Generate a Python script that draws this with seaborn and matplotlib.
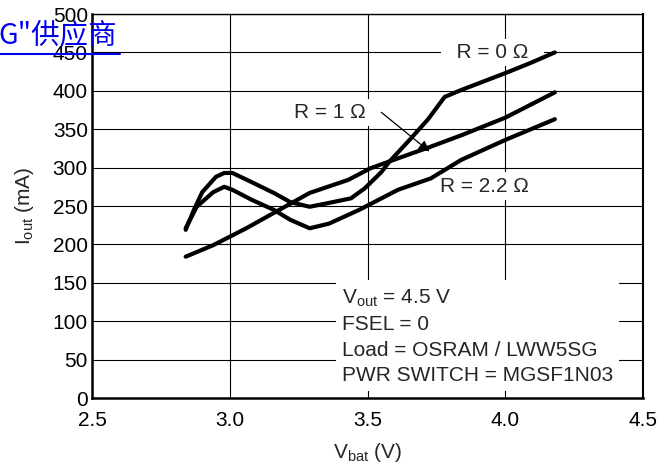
import numpy as np
import pandas as pd
import matplotlib
matplotlib.use("Agg")
import matplotlib.pyplot as plt
from matplotlib.lines import Line2D
import seaborn as sns

# Curves (V in volts, I in mA)
v_r0 = [2.84, 2.87, 2.90, 2.95, 2.98, 3.01, 3.08, 3.16, 3.22, 3.29, 3.36, 3.44,
        3.49, 3.55, 3.58, 3.65, 3.72, 3.78, 3.84, 4.00, 4.09, 4.18]
i_r0 = [219, 245, 268, 288, 293, 293, 281, 267, 255, 249, 254, 260,
        273, 294, 308, 335, 363, 392, 401, 423, 436, 450]

v_r1 = [2.84, 2.94, 3.06, 3.18, 3.29, 3.43, 3.51, 3.61, 3.72, 3.84, 4.00, 4.18]
i_r1 = [184, 199, 221, 245, 267, 284, 299, 312, 326, 342, 365, 398]

v_r22 = [2.84, 2.88, 2.94, 2.98, 3.01, 3.08, 3.16, 3.22, 3.29, 3.36, 3.47,
         3.61, 3.73, 3.84, 4.00, 4.18]
i_r22 = [221, 249, 268, 275, 271, 258, 245, 232, 221, 227, 245,
         271, 286, 310, 336, 363]

x_ticks = [2.5, 3.0, 3.5, 4.0, 4.5]
y_ticks = list(range(0, 501, 50))

df = pd.concat([
    pd.DataFrame({"vbat": v_r0, "iout": i_r0, "R": "0"}),
    pd.DataFrame({"vbat": v_r1, "iout": i_r1, "R": "1"}),
    pd.DataFrame({"vbat": v_r22, "iout": i_r22, "R": "2.2"}),
])

sns.set_style("white")
plt.rcParams["font.family"] = ["Liberation Sans", "Noto Sans CJK SC", "DejaVu Sans"]
plt.rcParams["mathtext.default"] = "regular"

fig = plt.figure(figsize=(6.6, 4.71), dpi=100)
ax = fig.add_axes([92 / 660, 1 - 398 / 471, 551 / 660, 384 / 471])

sns.lineplot(data=df, x="vbat", y="iout", hue="R", units="R", estimator=None,
             sort=False, palette=["black"] * 3, linewidth=3, legend=False,
             ax=ax, zorder=3)

ax.set_xlim(2.5, 4.5)
ax.set_ylim(0, 500)
ax.set_xticks(x_ticks, labels=[f"{t:.1f}" for t in x_ticks])
ax.set_yticks(y_ticks)
ax.tick_params(axis="both", length=0, labelsize=15, colors="black")
ax.tick_params(axis="x", pad=9)
ax.tick_params(axis="y", pad=3)
ax.grid(True, color="black", linewidth=0.8)
ax.set_axisbelow(True)

for side, lw in [("left", 1.8), ("bottom", 1.8), ("right", 1.5), ("top", 1.0)]:
    ax.spines[side].set_visible(True)
    ax.spines[side].set_color("black")
    ax.spines[side].set_linewidth(lw)

ax.set_xlabel("$V_{bat}$ (V)", fontsize=15)
ax.set_ylabel("$I_{out}$ (mA)", fontsize=15)
ax.xaxis.set_label_coords(0.5, -0.112)
ax.yaxis.set_label_coords(-0.102, 0.5)

box = dict(boxstyle="square,pad=0.2", facecolor="white", edgecolor="none")
ax.text(3.955, 450, "  R = 0 \u03a9  ", fontsize=15, ha="center", va="center",
        bbox=box, zorder=2.5)
ax.text(3.364, 372, "R = 1 \u03a9", fontsize=15, ha="center", va="center",
        bbox=box, zorder=2.5)
ax.text(3.925, 276, "R = 2.2 \u03a9", fontsize=15, ha="center", va="center",
        bbox=box, zorder=2.5)
ax.annotate("", xy=(3.725, 321), xytext=(3.55, 372),
            arrowprops=dict(arrowstyle="-|>", color="black", lw=0.9,
                            mutation_scale=16, shrinkA=0, shrinkB=0),
            zorder=4)

ax.text(3.407, 17,
        "$V_{out}$ = 4.5 V\nFSEL = 0\nLoad = OSRAM / LWW5SG\nPWR SWITCH = MGSF1N03",
        fontsize=15, ha="left", va="bottom", linespacing=1.42,
        bbox=dict(boxstyle="square,pad=0.3", facecolor="white", edgecolor="none"),
        zorder=2.5)

# stray hyperlink text overlapping the top-left corner
fig.text(117 / 660, 1 - 43 / 471, 'G"供应商', fontsize=20.5, color="#0000ee",
         ha="right", va="baseline",
         family=["Noto Sans CJK SC", "DejaVu Sans"])
fig.add_artist(Line2D([0, 120 / 660], [1 - 54 / 471, 1 - 54 / 471],
                      color="#0000ee", linewidth=1.5, transform=fig.transFigure))

fig.savefig("out.png", dpi=100)
